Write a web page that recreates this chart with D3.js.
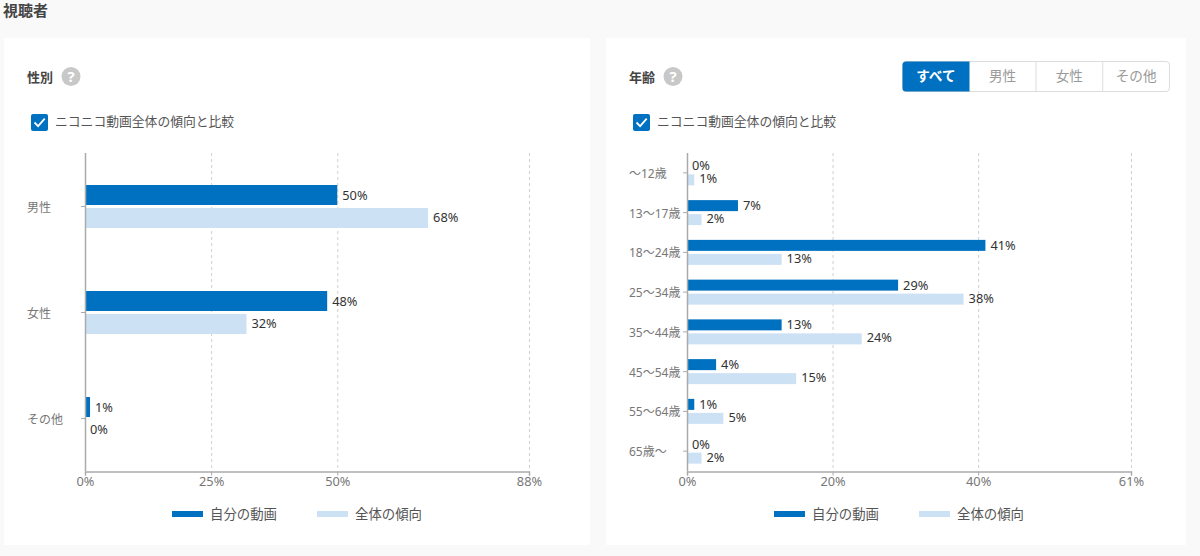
<!DOCTYPE html>
<html lang="ja"><head><meta charset="utf-8">
<script src="https://cdn.jsdelivr.net/npm/d3@7"></script>
<style>
html,body{margin:0;padding:0;background:#f9f9f9;overflow:hidden}
text{font-family:"Noto Sans","Noto Sans CJK JP",sans-serif}
</style></head><body>
<svg id="c" width="1200" height="556"></svg>
<script>
const genderCats=["男性","女性","その他"];
const genderMine=[50,48,1];
const genderAll=[68,32,0];
const genderTicks=[0,25,50,88];
const ageCats=["〜12歳","13〜17歳","18〜24歳","25〜34歳","35〜44歳","45〜54歳","55〜64歳","65歳〜"];
const ageMine=[0,7,41,29,13,4,1,0];
const ageAll=[1,2,13,38,24,15,5,2];
const ageTicks=[0,20,40,61];
const seriesNames=["自分の動画","全体の傾向"];
const tabs=["すべて","男性","女性","その他"];
const compareLabel="ニコニコ動画全体の傾向と比較";
const BLUE="#0070c0",LIGHT="#cce1f4";

const svg=d3.select("#c");
svg.append("text").attr("x",3).attr("y",16).attr("font-size",15).attr("font-weight",700).attr("fill","#444").text("視聴者");

function panel(o){
  svg.append("rect").attr("x",o.px).attr("y",38).attr("width",o.pw).attr("height",507).attr("fill","#fff");
  const g=svg.append("g");
  g.append("text").attr("x",o.px+23).attr("y",82).attr("font-size",13).attr("font-weight",700).attr("fill","#444").text(o.title);
  const hx=o.px+67;
  g.append("circle").attr("cx",hx).attr("cy",76.5).attr("r",9.5).attr("fill","#c8c8c8");
  g.append("text").attr("x",hx).attr("y",82).attr("text-anchor","middle").attr("font-size",15).attr("font-weight",700).attr("fill","#fff").text("?");
  const cx=o.px+27;
  g.append("rect").attr("x",cx).attr("y",114).attr("width",17).attr("height",17).attr("rx",2).attr("fill",BLUE);
  g.append("path").attr("d",`M${cx+3.5} ${122.5}l3.6 3.6l6.6 -7.4`).attr("fill","none").attr("stroke","#fff").attr("stroke-width",1.8);
  g.append("text").attr("x",cx+24).attr("y",126).attr("font-size",12.8).attr("fill","#555").text(compareLabel);

  const x=d3.scaleLinear().domain([0,o.ticks[o.ticks.length-1]]).range([o.x0,o.x1]);
  const y=d3.scaleBand().domain(o.cats).range([153+o.off,471+o.off]);
  g.selectAll(".grid").data(o.ticks.slice(1)).join("line")
    .attr("x1",d=>x(d)+.5).attr("x2",d=>x(d)+.5).attr("y1",153).attr("y2",471)
    .attr("stroke","#cfcfcf").attr("stroke-dasharray","3 3");
  const center=c=>y(c)+y.bandwidth()/2;
  const data=o.cats.map((c,i)=>({c,a:o.mine[i],b:o.all[i]}));
  g.selectAll(".a").data(data).join("rect").attr("x",o.x0).attr("y",d=>center(d.c)-o.bh-1.5)
    .attr("width",d=>x(d.a)-o.x0).attr("height",o.bh).attr("fill",BLUE);
  g.selectAll(".b").data(data).join("rect").attr("x",o.x0).attr("y",d=>center(d.c)+1.5)
    .attr("width",d=>x(d.b)-o.x0).attr("height",o.bh).attr("fill",LIGHT);
  const lab=(sel,key,dy)=>sel.data(data).join("text").attr("x",d=>x(d[key])+5).attr("y",d=>center(d.c)+dy)
    .attr("font-size",12.8).attr("fill","#333").text(d=>d[key]+"%");
  lab(g.selectAll(".la"),"a",-o.bh/2-1.5+4.5);
  lab(g.selectAll(".lb"),"b",o.bh/2+1.5+3.5);
  const ax=g.append("g").attr("transform","translate(0,471.5)")
    .call(d3.axisBottom(x).tickValues(o.ticks).tickFormat(d=>d+"%").tickSize(4).tickPadding(1));
  ax.selectAll("path,line").attr("stroke","#aaa");
  ax.select("path").attr("stroke-width",1.5);
  ax.selectAll("text").attr("font-size",12.8).attr("fill","#777");
  const ay=g.append("g").attr("transform",`translate(${o.x0},0)`)
    .call(d3.axisLeft(y).tickSize(4).tickPadding(6));
  ay.selectAll("path,line").attr("stroke","#aaa");
  ay.select("path").attr("stroke-width",1.5).attr("d",`M0.5,153V471`);
  ay.selectAll("text").attr("font-size",12).attr("fill","#777")
    .attr("text-anchor","start").attr("x",o.px+23-o.x0).attr("dy","0.42em");
  const lg=g.selectAll(".lg").data(seriesNames).join("g").attr("transform",(d,i)=>`translate(${o.px+168+i*145},0)`);
  lg.append("rect").attr("y",511).attr("width",31).attr("height",6).attr("fill",(d,i)=>i?LIGHT:BLUE);
  lg.append("text").attr("x",38).attr("y",519).attr("font-size",13.4).attr("fill","#555").text(d=>d);
}
panel({px:4,pw:586,title:"性別",cats:genderCats,mine:genderMine,all:genderAll,ticks:genderTicks,x0:85,x1:529,bh:20,off:0.5});
panel({px:606,pw:580,title:"年齢",cats:ageCats,mine:ageMine,all:ageAll,ticks:ageTicks,x0:687,x1:1131,bh:11,off:0});

const bx=d3.scaleBand().domain(tabs).range([902.5,1169.5]);
const tg=svg.append("g");
tg.append("rect").attr("x",902.5).attr("y",61.5).attr("width",267).attr("height",30).attr("rx",3.5).attr("fill","#fff").attr("stroke","#ddd");
tg.append("path").attr("d","M969.5 61.5H906a3.5 3.5 0 0 0 -3.5 3.5V88a3.5 3.5 0 0 0 3.5 3.5H969.5Z").attr("fill",BLUE);
tg.selectAll(".sep").data(tabs.slice(2)).join("line").attr("x1",d=>bx(d)).attr("x2",d=>bx(d)).attr("y1",61.5).attr("y2",91.5).attr("stroke","#ddd");
tg.selectAll(".t").data(tabs).join("text").attr("x",d=>bx(d)+bx.bandwidth()/2).attr("y",81).attr("text-anchor","middle")
  .attr("font-size",13.6).attr("font-weight",(d,i)=>i?400:700).attr("fill",(d,i)=>i?"#999":"#fff").text(d=>d);
</script>
</body></html>
